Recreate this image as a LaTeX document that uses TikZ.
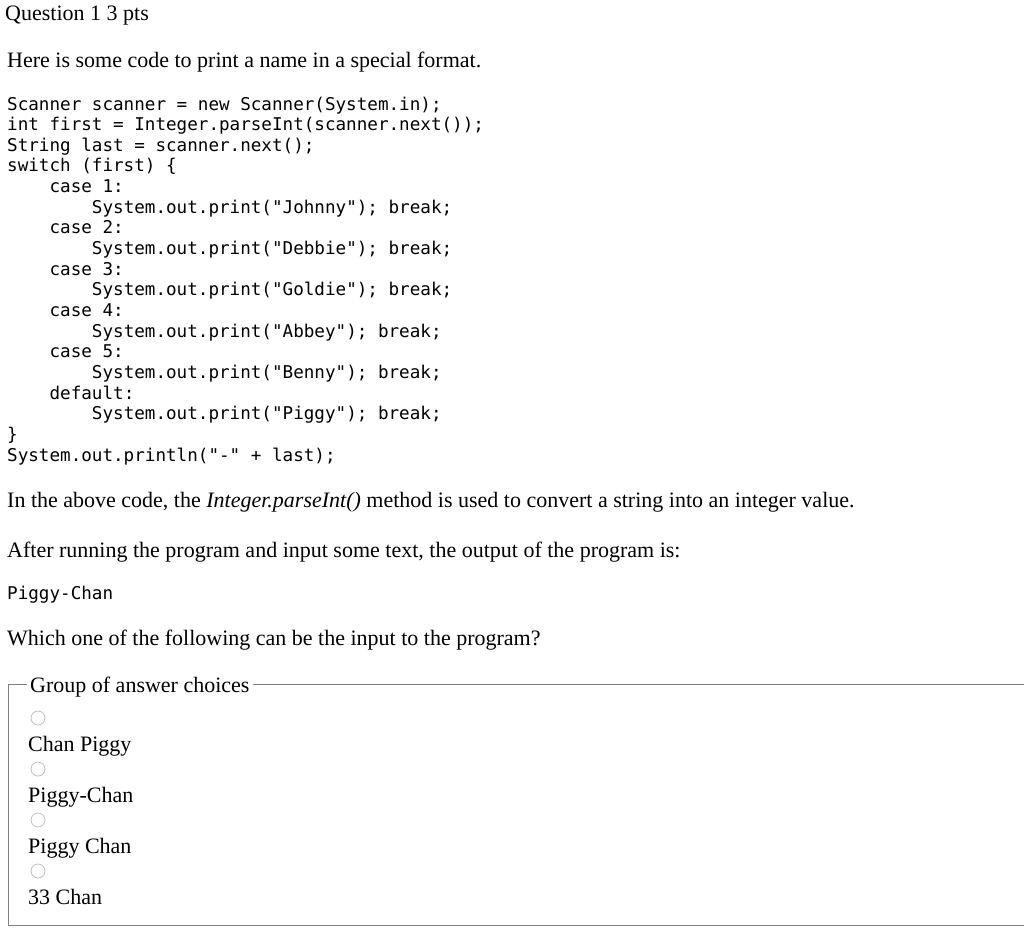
\documentclass[tikz,border=0pt]{standalone}
\usepackage{fontspec}
\setmainfont{Liberation Serif}
\setmonofont{DejaVu Sans Mono}
\begin{document}
\begin{tikzpicture}[x=1pt,y=-1pt,
  txt/.style={anchor=base west,inner sep=0pt,font=\fontsize{22}{26}\selectfont},
  code/.style={anchor=base west,inner sep=0pt,font=\fontsize{17.6}{20}\ttfamily},
  radio/.style={draw=black!25,line width=0.8pt,circle,minimum size=14pt,inner sep=0pt}]
\useasboundingbox (0,0) rectangle (1024,930);
\node[txt] (q) at (5,20) {Question 1 3 pts};
\node[txt] (h) at (7,67) {Here is some code to print a name in a special format.};
\foreach \t [count=\i from 0] in {
 {Scanner scanner = new Scanner(System.in);},
 {int first = Integer.parseInt(scanner.next());},
 {String last = scanner.next();},
 {switch (first) \{},
 {\ \ \ \ case 1:},
 {\ \ \ \ \ \ \ \ System.out.print("Johnny"); break;},
 {\ \ \ \ case 2:},
 {\ \ \ \ \ \ \ \ System.out.print("Debbie"); break;},
 {\ \ \ \ case 3:},
 {\ \ \ \ \ \ \ \ System.out.print("Goldie"); break;},
 {\ \ \ \ case 4:},
 {\ \ \ \ \ \ \ \ System.out.print("Abbey"); break;},
 {\ \ \ \ case 5:},
 {\ \ \ \ \ \ \ \ System.out.print("Benny"); break;},
 {\ \ \ \ default:},
 {\ \ \ \ \ \ \ \ System.out.print("Piggy"); break;},
 {\}},
 {System.out.println("-" + last);}}
 \node[code] (c\i) at (7,{110+20.65*\i}) {\obeyspaces\t};
\node[txt] (a) at (7,507) {In the above code, the \textit{Integer.parseInt()} method is used to convert a string into an integer value.};
\node[txt] (b) at (7,557) {After running the program and input some text, the output of the program is:};
\node[code] (o) at (7,599) {Piggy-Chan};
\node[txt] (w) at (7,645) {Which one of the following can be the input to the program?};
\node[txt] (g) at (30,692) {Group of answer choices};
\draw[black!50,line width=1pt] (27,684) -- (8,684) -- (8,925) -- (1024,925);
\draw[black!50,line width=1pt] ([xshift=3pt]g.east |- 0,684) -- (1024,684);
\foreach \t [count=\i from 0] in {Chan Piggy,Piggy-Chan,Piggy Chan,33 Chan}{
  \node[radio] (r\i) at (38,{718+51*\i}) {};
  \node[txt] (t\i) at (28,{751+51*\i}) {\t};
}
\end{tikzpicture}
\end{document}
